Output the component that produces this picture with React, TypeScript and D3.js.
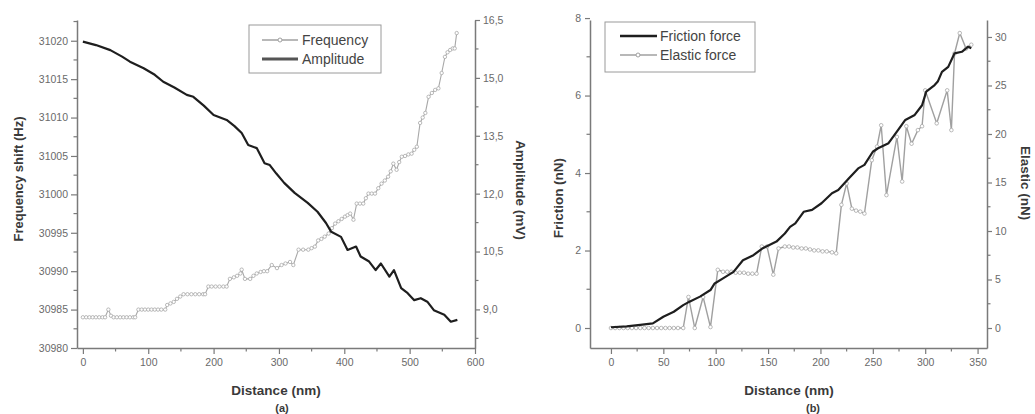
import React, { useEffect, useRef } from 'react';
import * as d3 from 'd3';

// ---------- Panel (a) data ----------
const freqDistance = [0,5,10,15,20,25,30,34,39,43,47,52,57,62,67,72,77,80,85,90,95,100,105,110,115,120,126,129,134,139,144,149,154,160,166,172,178,184,187,192,197,203,209,215,220,225,231,236,241,243,248,256,261,266,272,277,282,289,297,304,310,317,322,330,337,345,350,355,360,365,370,376,381,386,391,396,401,405,409,414,419,424,429,433,437,442,447,452,457,462,467,471,475,480,484,488,493,498,503,507,511,516,520,524,529,534,539,544,549,554,558,562,566,569,572];
const freqValues = [30984,30984,30984,30984,30984,30984,30984,30984,30985,30984.2,30984,30984,30984,30984,30984,30984,30984,30984,30985,30985,30985,30985,30985,30985,30985,30985,30985,30985.6,30985.8,30986,30986.4,30986.7,30987,30987,30987,30987,30987,30987,30987,30988,30988,30988,30988,30988,30988,30989,30989.2,30989.4,30989.7,30990.2,30989,30989,30989.4,30989.7,30989.9,30990,30990,30990.8,30990.4,30990.8,30991,30991.2,30990.8,30992.8,30992.8,30992.8,30993,30993.2,30994,30994.2,30994.5,30994.9,30995.6,30996.2,30996.5,30996.8,30997.1,30997.3,30997.5,30996.7,30998.8,30998.8,30998.8,30999.5,31000.1,31000.1,31000.1,31000.8,31001.4,31001.8,31002.3,31003,31004,31003.2,31004.2,31004.9,31005,31005.2,31005.3,31005.8,31006.2,31009.3,31010,31010.6,31012.7,31013.2,31013.6,31013.8,31015.8,31017.9,31018.5,31018.8,31019,31019,31021];

const ampDistance = [0,20,42,60,72,93,110,123,140,159,169,185,200,220,232,243,253,266,278,286,296,308,324,344,359,372,380,395,405,418,425,438,448,456,469,476,487,497,507,517,527,537,553,563,573];
const ampValues = [15.94,15.85,15.72,15.55,15.42,15.25,15.08,14.9,14.75,14.56,14.51,14.28,14.04,13.91,13.75,13.57,13.26,13.18,12.79,12.74,12.52,12.28,12.02,11.76,11.53,11.24,11.01,10.88,10.54,10.63,10.37,10.24,10.02,10.19,9.85,10.02,9.55,9.42,9.24,9.29,9.2,8.98,8.86,8.68,8.73];

// ---------- Panel (b) data ----------
const fricDistance = [0,15,28,40,50,60,69,75,85,95,99,107,117,126,136,145,158,166,171,176,184,192,201,211,217,227,236,242,250,255,265,274,281,290,297,301,309,312,316,322,328,335,341,344];
const fricValues = [0.02,0.04,0.08,0.12,0.29,0.42,0.59,0.68,0.81,0.98,1.15,1.28,1.45,1.75,1.88,2.06,2.23,2.44,2.61,2.7,3.0,3.05,3.22,3.48,3.56,3.86,4.12,4.21,4.55,4.64,4.77,5.11,5.37,5.5,5.75,6.1,6.27,6.36,6.61,6.74,7.09,7.13,7.26,7.22];

const elasDistance = [0,4,8,12,16,20,24,28,32,36,40,44,48,52,56,60,64,69,74,80,88,95,102,107,111,115,119,123,127,131,135,139,144,149,155,160,166,170,174,178,182,186,190,194,198,202,206,211,215,220,225,230,234,238,242,249,254,258,263,273,278,282,287,293,297,300,311,321,325,328,333,339,344];
const elasValues = [0,0,0,0,0,0,0,0,0,0,0,0,0,0,0,0,0,0,3.2,0,3.2,0.1,6.0,5.8,5.8,5.8,5.7,5.7,5.7,5.6,5.6,5.6,8.4,8.4,5.5,8.2,8.4,8.4,8.3,8.3,8.2,8.2,8.1,8.0,8.0,7.9,7.9,7.8,7.7,12.7,14.9,12.3,12.1,12.0,11.8,17.3,18.7,20.9,13.7,19.7,15.1,20.8,19.0,20.4,20.8,24.5,21.1,24.5,20.4,28.3,30.4,28.8,29.2];

// ---------- Ticks ----------
const aXTicks = [0,100,200,300,400,500,600];
const aXMinor = [50,150,250,350,450,550];
const freqTicks = [30980,30985,30990,30995,31000,31005,31010,31015,31020];
const freqMinor = [30982.5,30987.5,30992.5,30997.5,31002.5,31007.5,31012.5,31017.5,31022.5];
const ampTicks = [9.0,10.5,12.0,13.5,15.0,16.5];
const ampMinor = [8.25,9.75,11.25,12.75,14.25,15.75];
const bXTicks = [0,50,100,150,200,250,300,350];
const bXMinor = [25,75,125,175,225,275,325];
const fricTicks = [0,2,4,6,8];
const fricMinor = [1,3,5,7];
const elasTicks = [0,5,10,15,20,25,30];
const elasMinor = [2.5,7.5,12.5,17.5,22.5,27.5];

const FONT = "'Liberation Sans', Arial, sans-serif";
const AXIS_COLOR = '#7a7a7a';
const TICK_TEXT = '#6a6a6a';
const TITLE_COLOR = '#3a3a3a';

export default function App() {
  const ref = useRef<SVGSVGElement>(null);

  useEffect(() => {
    const svg = d3.select(ref.current);
    svg.selectAll('*').remove();

    const styleAxis = (g: any) => {
      g.select('.domain').attr('stroke', AXIS_COLOR).attr('stroke-width', 1.5);
      g.selectAll('.tick line').attr('stroke', AXIS_COLOR).attr('stroke-width', 1.2);
      g.selectAll('.tick text').attr('fill', TICK_TEXT).style('font-family', FONT).style('font-size', '10.5px');
    };

    const minorTicks = (orient: string, scale: any, vals: number[], pos: number) => {
      const g = svg.append('g');
      vals.forEach(v => {
        const p = scale(v);
        let x1 = 0, x2 = 0, y1 = 0, y2 = 0;
        if (orient === 'left') { x1 = pos - 3.5; x2 = pos; y1 = y2 = p; }
        if (orient === 'right') { x1 = pos; x2 = pos + 3.5; y1 = y2 = p; }
        if (orient === 'bottom') { y1 = pos; y2 = pos + 3.5; x1 = x2 = p; }
        g.append('line').attr('x1', x1).attr('x2', x2).attr('y1', y1).attr('y2', y2)
          .attr('stroke', AXIS_COLOR).attr('stroke-width', 1.2);
      });
    };

    const title = (text: string, x: number, y: number, rot: number, size = 13.5) => {
      svg.append('text')
        .attr('transform', `translate(${x},${y}) rotate(${rot})`)
        .attr('text-anchor', 'middle')
        .attr('dominant-baseline', 'central')
        .attr('fill', TITLE_COLOR)
        .style('font-family', FONT)
        .style('font-size', `${size}px`)
        .style('font-weight', 'bold')
        .text(text);
    };

    const top = 20, bottom = 348;

    // ================= Panel (a) =================
    const xa = d3.scaleLinear().domain([-9, 600]).range([77, 475]);
    const yF = d3.scaleLinear().domain([30980, 31022.7]).range([bottom, top]);
    const yA = d3.scaleLinear().domain([8.0, 16.5]).range([bottom, top]);

    const gxa = svg.append('g').attr('transform', `translate(0,${bottom})`)
      .call(d3.axisBottom(xa).tickValues(aXTicks).tickSize(6).tickSizeOuter(0).tickPadding(5).tickFormat(d3.format('d')) as any);
    styleAxis(gxa);
    minorTicks('bottom', xa, aXMinor, bottom);

    const gyF = svg.append('g').attr('transform', `translate(77,0)`)
      .call(d3.axisLeft(yF).tickValues(freqTicks).tickSize(6).tickSizeOuter(0).tickPadding(3).tickFormat(d3.format('d')) as any);
    styleAxis(gyF);
    minorTicks('left', yF, freqMinor, 77);

    const gyA = svg.append('g').attr('transform', `translate(475,0)`)
      .call(d3.axisRight(yA).tickValues(ampTicks).tickSize(5).tickSizeOuter(0).tickPadding(3)
        .tickFormat((d: any) => (+d).toFixed(1).replace('.', ',')) as any);
    styleAxis(gyA);
    minorTicks('right', yA, ampMinor, 475);

    // frequency (gray with markers)
    const freqData = freqDistance.map((d, i) => [d, freqValues[i]]);
    svg.append('path').datum(freqData)
      .attr('d', d3.line<any>().x(d => xa(d[0])).y(d => yF(d[1])))
      .attr('fill', 'none').attr('stroke', '#a8a8a8').attr('stroke-width', 1.1);
    svg.append('g').selectAll('circle').data(freqData).enter().append('circle')
      .attr('cx', d => xa(d[0])).attr('cy', d => yF(d[1])).attr('r', 1.7)
      .attr('fill', '#fff').attr('stroke', '#a8a8a8').attr('stroke-width', 0.8);

    // amplitude (black)
    const ampData = ampDistance.map((d, i) => [d, ampValues[i]]);
    svg.append('path').datum(ampData)
      .attr('d', d3.line<any>().x(d => xa(d[0])).y(d => yA(d[1])))
      .attr('fill', 'none').attr('stroke', '#1e1e1e').attr('stroke-width', 2.2).attr('stroke-linejoin', 'round');

    // legend (a)
    const la = svg.append('g');
    la.append('rect').attr('x', 249).attr('y', 25).attr('width', 132).attr('height', 48)
      .attr('fill', '#fff').attr('stroke', '#9a9a9a').attr('stroke-width', 1);
    la.append('line').attr('x1', 262).attr('x2', 298).attr('y1', 40).attr('y2', 40).attr('stroke', '#a0a0a0').attr('stroke-width', 1.5);
    la.append('circle').attr('cx', 280).attr('cy', 40).attr('r', 2).attr('fill', '#fff').attr('stroke', '#a0a0a0');
    la.append('line').attr('x1', 262).attr('x2', 298).attr('y1', 59).attr('y2', 59).attr('stroke', '#555').attr('stroke-width', 3);
    la.append('text').attr('x', 302).attr('y', 40).attr('dominant-baseline', 'central').attr('fill', '#444')
      .style('font-family', FONT).style('font-size', '14px').text('Frequency');
    la.append('text').attr('x', 302).attr('y', 59).attr('dominant-baseline', 'central').attr('fill', '#444')
      .style('font-family', FONT).style('font-size', '14px').text('Amplitude');

    title('Frequency shift (Hz)', 18, 179, -90, 13);
    title('Amplitude (mV)', 520, 190, 90, 13.5);
    title('Distance (nm)', 276, 390, 0, 13.5);
    svg.append('text').attr('x', 282).attr('y', 412).attr('text-anchor', 'middle').attr('fill', TITLE_COLOR)
      .style('font-family', FONT).style('font-size', '11px').style('font-weight', 'bold').text('(a)');

    // ================= Panel (b) =================
    const xb = d3.scaleLinear().domain([-20, 359]).range([590, 987]);
    const yFr = d3.scaleLinear().domain([-0.516, 7.95]).range([bottom, top]);
    const yE = d3.scaleLinear().domain([-2.06, 31.75]).range([bottom, top]);

    const gxb = svg.append('g').attr('transform', `translate(0,${bottom})`)
      .call(d3.axisBottom(xb).tickValues(bXTicks).tickSize(6).tickSizeOuter(0).tickPadding(5).tickFormat(d3.format('d')) as any);
    styleAxis(gxb);
    minorTicks('bottom', xb, bXMinor, bottom);

    const gyFr = svg.append('g').attr('transform', `translate(590,0)`)
      .call(d3.axisLeft(yFr).tickValues(fricTicks).tickSize(5).tickSizeOuter(0).tickPadding(4).tickFormat(d3.format('d')) as any);
    styleAxis(gyFr);
    minorTicks('left', yFr, fricMinor, 590);

    const gyE = svg.append('g').attr('transform', `translate(987,0)`)
      .call(d3.axisRight(yE).tickValues(elasTicks).tickSize(5).tickSizeOuter(0).tickPadding(3).tickFormat(d3.format('d')) as any);
    styleAxis(gyE);
    minorTicks('right', yE, elasMinor, 987);

    const elasData = elasDistance.map((d, i) => [d, elasValues[i]]);
    svg.append('path').datum(elasData)
      .attr('d', d3.line<any>().x(d => xb(d[0])).y(d => yE(d[1])))
      .attr('fill', 'none').attr('stroke', '#a0a0a0').attr('stroke-width', 1.4);
    svg.append('g').selectAll('circle').data(elasData).enter().append('circle')
      .attr('cx', d => xb(d[0])).attr('cy', d => yE(d[1])).attr('r', 1.8)
      .attr('fill', '#fff').attr('stroke', '#a8a8a8').attr('stroke-width', 0.8);

    const fricData = fricDistance.map((d, i) => [d, fricValues[i]]);
    svg.append('path').datum(fricData)
      .attr('d', d3.line<any>().x(d => xb(d[0])).y(d => yFr(d[1])))
      .attr('fill', 'none').attr('stroke', '#1e1e1e').attr('stroke-width', 2.2).attr('stroke-linejoin', 'round');

    // legend (b)
    const lb = svg.append('g');
    lb.append('rect').attr('x', 605).attr('y', 22).attr('width', 150).attr('height', 50)
      .attr('fill', '#fff').attr('stroke', '#9a9a9a').attr('stroke-width', 1);
    lb.append('line').attr('x1', 620).attr('x2', 657).attr('y1', 36).attr('y2', 36).attr('stroke', '#1e1e1e').attr('stroke-width', 2.6);
    lb.append('line').attr('x1', 620).attr('x2', 657).attr('y1', 55).attr('y2', 55).attr('stroke', '#a0a0a0').attr('stroke-width', 1.5);
    lb.append('circle').attr('cx', 638).attr('cy', 55).attr('r', 2).attr('fill', '#fff').attr('stroke', '#a0a0a0');
    lb.append('text').attr('x', 660).attr('y', 36).attr('dominant-baseline', 'central').attr('fill', '#444')
      .style('font-family', FONT).style('font-size', '14px').text('Friction force');
    lb.append('text').attr('x', 660).attr('y', 55).attr('dominant-baseline', 'central').attr('fill', '#444')
      .style('font-family', FONT).style('font-size', '14px').text('Elastic force');

    title('Friction (nN)', 558, 198, -90, 13.5);
    title('Elastic (nN)', 1025, 183, 90, 13.5);
    title('Distance (nm)', 789, 390, 0, 13.5);
    svg.append('text').attr('x', 813).attr('y', 412).attr('text-anchor', 'middle').attr('fill', TITLE_COLOR)
      .style('font-family', FONT).style('font-size', '11px').style('font-weight', 'bold').text('(b)');
  }, []);

  return (
    <svg ref={ref} width={1035} height={414}
      style={{ position: 'absolute', left: 0, top: 0, background: '#fff' }} />
  );
}
